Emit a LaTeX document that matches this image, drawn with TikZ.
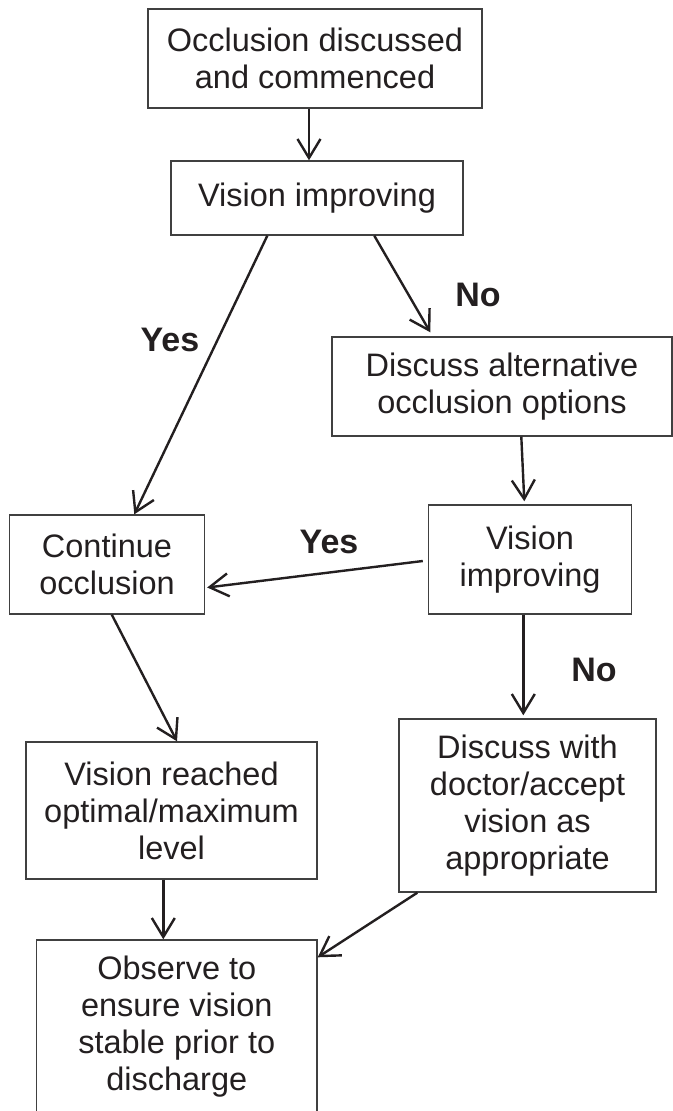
\documentclass[tikz,border=0pt]{standalone}
\usepackage{fontspec}
\setmainfont{Liberation Sans}
\usetikzlibrary{arrows.meta}
\definecolor{boxgray}{HTML}{404040}
\definecolor{textdark}{HTML}{231F20}
\tikzset{
  box/.style={draw=boxgray, line width=1.4pt, inner sep=0pt, align=center,
    text=textdark, font=\fontsize{32.5}{37}\selectfont},
  arr/.style={draw=textdark, line width=2.4pt, -{Straight Barb[length=19pt,width=23pt]}},
  lbl/.style={inner sep=0pt, text=textdark, font=\bfseries\fontsize{34}{38}\selectfont}
}
\begin{document}
\begin{tikzpicture}[x=1pt,y=-1pt]
\useasboundingbox (0,0) rectangle (672,1111);
\node[box, minimum width=334pt, minimum height=99pt] (b1) at (315,58.5) {Occlusion discussed\\and commenced};
\node[box, minimum width=292pt, minimum height=74pt] (b2) at (317,198) {Vision improving};
\node[box, minimum width=340pt, minimum height=99pt] (b3) at (502,386.5) {Discuss alternative\\occlusion options};
\node[box, minimum width=195pt, minimum height=99pt] (b4) at (107,564.5) {Continue\\occlusion};
\node[box, minimum width=203pt, minimum height=109pt] (b5) at (530,559.5) {Vision\\improving};
\node[box, minimum width=291pt, minimum height=137pt] (b6) at (171.5,810.5) {Vision reached\\optimal/maximum\\level};
\node[box, minimum width=257pt, minimum height=173pt] (b7) at (527.5,805.5) {Discuss with\\doctor/accept\\vision as\\appropriate};
\node[box, minimum width=280.5pt, minimum height=174pt] (b8) at (176.75,1027) {Observe to\\ensure vision\\stable prior to\\discharge};

\node[lbl] (no1) at (478,295) {No};
\node[lbl] (yes1) at (170,340) {Yes};
\node[lbl] (yes2) at (329,542) {Yes};
\node[lbl] (no2) at (594,670) {No};

\draw[arr] ([xshift=-6pt]b1.south) -- ([xshift=-8pt]b2.north);
\draw[arr] ([xshift=204pt]b2.south west) -- ([xshift=99pt,yshift=4pt]b3.north west);
\draw[arr] ([xshift=97pt]b2.south west) -- ([xshift=125.5pt]b4.north west);
\draw[arr] ([xshift=190pt]b3.south west) -- ([xshift=96.5pt,yshift=3pt]b5.north west);
\draw[arr] ([xshift=-5pt,yshift=-1.5pt]b5.west) -- ([xshift=2pt,yshift=-23pt]b4.east);
\draw[arr] ([xshift=103pt]b4.south west) -- ([xshift=151.7pt]b6.north west);
\draw[arr] ([xshift=95.5pt]b5.south west) -- ([xshift=125pt,yshift=3pt]b7.north west);
\draw[arr] ([xshift=138pt]b6.south west) -- ([xshift=127.5pt]b8.north west);
\draw[arr] ([xshift=19pt]b7.south west) -- ([yshift=-18pt]b8.north east);
\end{tikzpicture}
\end{document}
